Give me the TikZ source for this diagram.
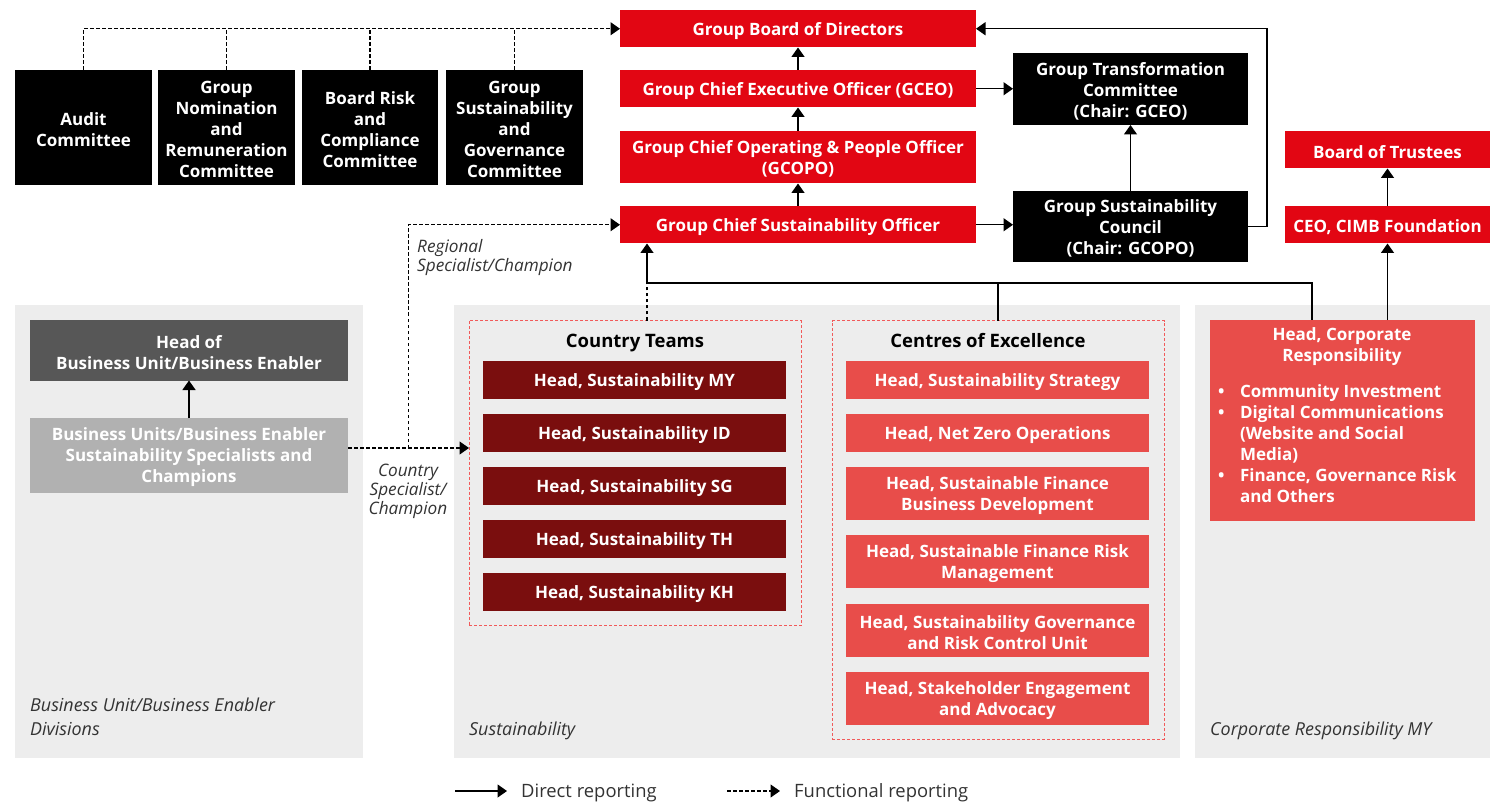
\documentclass[tikz,border=0pt]{standalone}
\usepackage{fontspec}
\setmainfont{Open Sans}
\usetikzlibrary{arrows.meta}
\definecolor{cimbred}{HTML}{E20613}
\definecolor{darkred}{HTML}{7A0E0E}
\definecolor{lightred}{HTML}{E84D4A}
\definecolor{panelgray}{HTML}{EDEDED}
\definecolor{headgray}{HTML}{575757}
\definecolor{specgray}{HTML}{B1B1B1}
\definecolor{dashred}{HTML}{F15A5A}
\definecolor{labgray}{HTML}{333333}
\tikzset{
  plainbox/.style={inner sep=0pt, outer sep=0pt},
  redbox/.style={plainbox, fill=cimbred},
  blackbox/.style={plainbox, fill=black},
  darkbox/.style={plainbox, fill=darkred},
  lightbox/.style={plainbox, fill=lightred},
  hgbox/.style={plainbox, fill=headgray},
  sgbox/.style={plainbox, fill=specgray},
  panel/.style={plainbox, fill=panelgray},
  group/.style={plainbox, draw=dashred, line width=1pt, dash pattern=on 3pt off 2pt},
  btext/.style={inner sep=0pt, outer sep=0pt, text=white, align=center,
    font=\fontsize{17}{21}\selectfont\bfseries},
  heading/.style={inner sep=0pt, text=black, anchor=base, font=\fontsize{18.5}{21}\selectfont\bfseries},
  ital/.style={inner sep=0pt, text=labgray, align=left, font=\fontsize{17.2}{19}\selectfont\itshape},
  plab/.style={inner sep=0pt, text=labgray, align=left, font=\fontsize{17.9}{24}\selectfont\itshape},
  leg/.style={inner sep=0pt, text=labgray, anchor=west, font=\fontsize{18.4}{20}\selectfont},
  tip/.style={-{Triangle[width=13pt,length=9.5pt]}},
  dir/.style={line width=1.4pt, tip},
  fun/.style={line width=1.2pt, dash pattern=on 3.5pt off 2.5pt},
  funa/.style={fun, tip},
  ln/.style={line width=1.4pt}
}
\newcommand\mkbox[7]{%
  \node[#1, minimum width={#5-#3}, minimum height={#6-#4}] (#2) at ({(#3+#5)/2},{(#4+#6)/2}) {};
  \node[btext] (#2-t) at ([yshift=-2pt]#2.center) {#7};}
\newcommand\mkshape[6]{%
  \node[#1, minimum width={#5-#3}, minimum height={#6-#4}] (#2) at ({(#3+#5)/2},{(#4+#6)/2}) {};}
\begin{document}
\begin{tikzpicture}[x=1pt,y=-1pt]
\useasboundingbox (0,0) rectangle (1499,802);
% panels
\mkshape{panel}{pbu}{15}{305}{362.5}{758}
\mkshape{panel}{psu}{454}{305}{1180}{758}
\mkshape{panel}{pcr}{1195}{305}{1490}{758}
% committees
\mkbox{blackbox}{aud}{15}{70}{152}{185}{Audit\\Committee}
\mkbox{blackbox}{nom}{158}{70}{295}{185}{Group\\Nomination\\and\\Remuneration\\Committee}
\mkbox{blackbox}{brc}{302}{70}{438}{185}{Board Risk\\and\\Compliance\\Committee}
\mkbox{blackbox}{gsg}{446}{70}{583}{185}{Group\\Sustainability\\and\\Governance\\Committee}
% central column
\mkbox{redbox}{gbd}{620}{10}{976}{47.5}{Group Board of Directors}
\mkbox{redbox}{gceo}{620}{70}{976}{107.5}{Group Chief Executive Officer (GCEO)}
\mkbox{redbox}{gcopo}{620}{131}{976}{183.5}{Group Chief Operating \& People Officer\\(GCOPO)}
\mkbox{redbox}{gcso}{620}{206}{976}{243.5}{Group Chief Sustainability Officer}
\mkbox{blackbox}{gtc}{1013}{53}{1248}{125}{Group Transformation\\Committee\\(Chair: GCEO)}
\mkbox{blackbox}{gsc}{1013}{191}{1248}{262.5}{Group Sustainability\\Council\\(Chair: GCOPO)}
\mkbox{redbox}{bot}{1285}{131}{1490}{168.5}{Board of Trustees}
\mkbox{redbox}{ceo}{1285}{206}{1490}{243.5}{CEO, CIMB Foundation}
% business unit panel
\mkbox{hgbox}{hbu}{30}{320}{348}{380.5}{Head of\\Business Unit/Business Enabler}
\mkbox{sgbox}{bus}{30}{418}{348}{493}{Business Units/Business Enabler\\Sustainability Specialists and\\Champions}
% country teams
\mkshape{group}{ct}{469}{320.5}{801}{625.5}
\node[heading] (cth) at (635,347.5) {Country Teams};
\mkbox{darkbox}{my}{483}{361}{786}{398.7}{Head, Sustainability MY}
\mkbox{darkbox}{id}{483}{414}{786}{452}{Head, Sustainability ID}
\mkbox{darkbox}{sg}{483}{467}{786}{504.7}{Head, Sustainability SG}
\mkbox{darkbox}{th}{483}{520}{786}{557.7}{Head, Sustainability TH}
\mkbox{darkbox}{kh}{483}{573}{786}{610.7}{Head, Sustainability KH}
% centres of excellence
\mkshape{group}{coe}{832}{320.5}{1164}{739}
\node[heading] (coeh) at (988,347.5) {Centres of Excellence};
\mkbox{lightbox}{c1}{846}{361}{1149}{398.7}{Head, Sustainability Strategy}
\mkbox{lightbox}{c2}{846}{414}{1149}{452}{Head, Net Zero Operations}
\mkbox{lightbox}{c3}{846}{467}{1149}{519.7}{Head, Sustainable Finance\\Business Development}
\mkbox{lightbox}{c4}{846}{535}{1149}{587.7}{Head, Sustainable Finance Risk\\Management}
\mkbox{lightbox}{c5}{846}{604}{1149}{656.7}{Head, Sustainability Governance\\and Risk Control Unit}
\mkbox{lightbox}{c6}{846}{672}{1149}{724.7}{Head, Stakeholder Engagement\\and Advocacy}
% corporate responsibility
\mkshape{lightbox}{hcr}{1210}{320}{1475}{520.5}
\node[btext, anchor=north] (hcrt) at (1342,327.5) {Head, Corporate\\Responsibility};
\node[btext, align=left, anchor=north west] (hcrl) at (1218,384.5)
  {\makebox[22pt][l]{•}Community Investment\\
   \makebox[22pt][l]{•}Digital Communications\\
   \hspace*{22pt}(Website and Social\\
   \hspace*{22pt}Media)\\
   \makebox[22pt][l]{•}Finance, Governance Risk\\
   \hspace*{22pt}and Others};
% panel labels
\node[plab, anchor=north west] (lbu) at (30,697.5) {Business Unit/Business Enabler\\Divisions};
\node[plab, anchor=north west] (lsu) at (469,721.5) {Sustainability};
\node[plab, anchor=north west] (lcr) at (1210,721.5) {Corporate Responsibility MY};
% committee functional lines
\draw[funa] (aud.north) |- (gbd.west);
\draw[fun] (nom.north) -- (nom.north |- gbd.west);
\draw[fun] (brc.north) -- (brc.north |- gbd.west);
\draw[fun] (gsg.north) -- (gsg.north |- gbd.west);
% central direct lines
\draw[dir] (gceo.north) -- (gbd.south);
\draw[dir] (gcopo.north) -- (gceo.south);
\draw[dir] (gcso.north) -- (gcopo.south);
\draw[dir] (gceo.east) -- (gceo.east -| gtc.west);
\draw[dir] (gcso.east) -- (gcso.east -| gsc.west);
\draw[dir] (gsc.north) -- (gtc.south);
\draw[dir] (gsc.east) -- ++(19,0) |- (gbd.east);
\draw[dir] (ceo.north) -- (bot.south);
\draw[dir] (ceo.south |- hcr.north) -- (ceo.south);
% sustainability team lines
\coordinate (jn) at (647,283);
\coordinate (ctt) at (647,320.5);
\draw[fun] (ctt) -- (jn);
\draw[dir] (jn) -- (jn |- gcso.south);
\draw[ln] (jn) -- (1312,283) -- (1312,320);
\draw[ln] (coe.north) -- (coe.north |- jn);
% business unit lines
\draw[dir] (bus.north) -- (hbu.south);
\coordinate (bse) at (348,448);
\coordinate (bj) at (408.5,448);
\draw[funa] (bse) -- (bse -| ct.west);
\draw[funa] (bj) |- (gcso.west);
\node[ital, anchor=north west] (lreg) at (417,239.5) {Regional\\Specialist/Champion};
\node[ital, align=center, anchor=north] (lcty) at (408,463.5) {Country\\Specialist/\\Champion};
% legend
\coordinate (l1a) at (455,791);
\coordinate (l1b) at (507,791);
\draw[dir] (l1a) -- (l1b);
\node[leg] (t1) at (521,793) {Direct reporting};
\coordinate (l2a) at (727,791);
\coordinate (l2b) at (780,791);
\draw[funa] (l2a) -- (l2b);
\node[leg] (t2) at (794,793) {Functional reporting};
\end{tikzpicture}
\end{document}
